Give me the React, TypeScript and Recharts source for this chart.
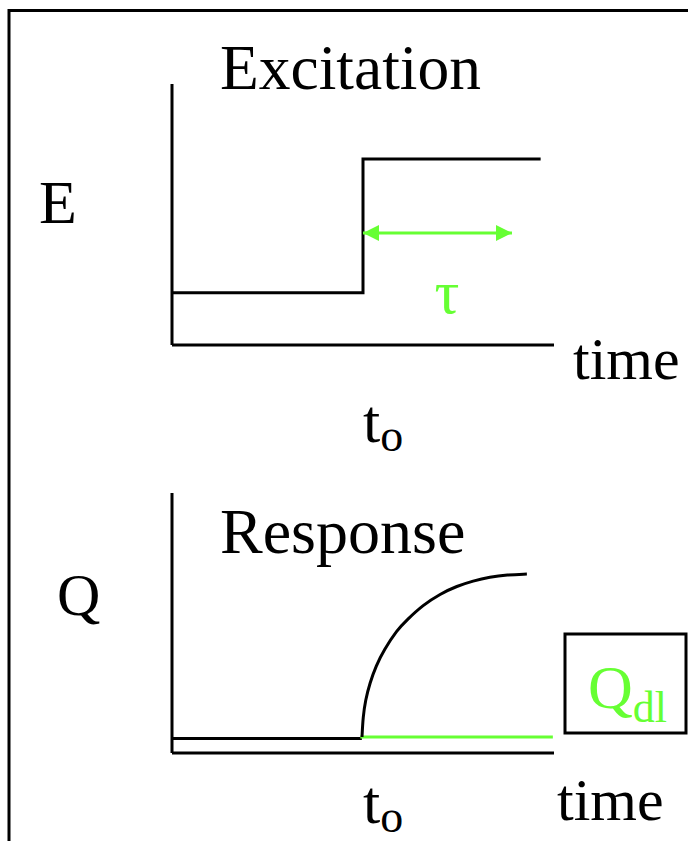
import React from "react";
import { Line, LineChart, XAxis, YAxis } from "recharts";

// time axis runs 0..100, both panels share it
const stepTimes = [0, 50, 96.5];
const stepLevels = [20, 71.3, 71.3];

const tauTimes = [50, 89];
const tauLevels = [42.9, 42.9];

const baseTimes = [0, 49.7];
const baseLevels = [5.6, 5.6];

const dlTimes = [49.3, 99.7];
const dlLevels = [6.2, 6.2];

const responseTimes = [49.74, 50.0, 50.65, 51.8, 53.4, 55.5, 58.9, 61.5, 65.7, 70.2, 74.6, 78.8, 83.2, 87.7, 92.9];
const responseLevels = [6.15, 13.8, 20.4, 26.9, 33.5, 39.6, 47.3, 51.2, 56.9, 61.2, 64.2, 66.2, 67.7, 68.5, 68.8];

const onsetTicks = [50];

const GREEN = "#66ff33";
const FONT = "'Liberation Serif', 'Times New Roman', serif";

const zip = (xs: number[], ys: number[]) => xs.map((x, i) => ({ x, y: ys[i] }));

const axisLine = { stroke: "#000", strokeWidth: 3 };

function OnsetTick({ x, y, dy }: any) {
  return (
    <text x={x} y={y + dy} fontFamily={FONT} fontSize={62} fill="#000">
      t
      <tspan fontSize={46} dy={9}>o</tspan>
    </text>
  );
}

function ArrowHead(props: any) {
  const { cx, cy, index } = props;
  const dir = index === 0 ? 1 : -1;
  const d = `M${cx},${cy} L${cx + dir * 16},${cy - 8} L${cx + dir * 16},${cy + 8} Z`;
  return <path key={`head-${index}`} d={d} fill={GREEN} stroke="none" />;
}

function Panel({
  height,
  margin,
  tickDy,
  children
}: {
  height: number;
  margin: { top: number; right: number; bottom: number; left: number };
  tickDy: number;
  children: React.ReactNode;
}) {
  return (
    <LineChart width={688} height={height} margin={margin}>
      <XAxis
        type="number"
        dataKey="x"
        domain={[0, 100]}
        allowDataOverflow
        ticks={onsetTicks}
        height={1}
        tickLine={false}
        tickSize={0}
        tickMargin={0}
        axisLine={axisLine}
        tick={<OnsetTick dy={tickDy} />}
      />
      <YAxis type="number" domain={[0, 100]} allowDataOverflow width={1} tick={false} tickLine={false} axisLine={axisLine} />
      {children}
    </LineChart>
  );
}

export default function App() {
  return (
    <div style={{ position: "absolute", left: 0, top: 0, width: 688, height: 841, background: "#fff" }}>
      <div style={{ position: "absolute", left: 0, top: 0 }}>
        <Panel height={460} margin={{ top: 84, right: 134, bottom: 114, left: 171 }} tickDy={97}>
          <Line
            data={zip(stepTimes, stepLevels)}
            dataKey="y"
            type="stepAfter"
            stroke="#000"
            strokeWidth={3}
            dot={false}
            isAnimationActive={false}
          />
          <Line
            data={zip(tauTimes, tauLevels)}
            dataKey="y"
            type="linear"
            stroke={GREEN}
            strokeWidth={3}
            dot={ArrowHead}
            isAnimationActive={false}
          />
        </Panel>
      </div>
      <div style={{ position: "absolute", left: 0, top: 460 }}>
        <Panel height={381} margin={{ top: 33, right: 134, bottom: 87, left: 171 }} tickDy={70}>
          <Line
            data={zip(baseTimes, baseLevels)}
            dataKey="y"
            type="linear"
            stroke="#000"
            strokeWidth={3}
            dot={false}
            isAnimationActive={false}
          />
          <Line
            data={zip(dlTimes, dlLevels)}
            dataKey="y"
            type="linear"
            stroke={GREEN}
            strokeWidth={3}
            dot={false}
            isAnimationActive={false}
          />
          <Line
            data={zip(responseTimes, responseLevels)}
            dataKey="y"
            type="basis"
            stroke="#000"
            strokeWidth={3}
            dot={false}
            isAnimationActive={false}
          />
        </Panel>
      </div>
      <svg
        width={688}
        height={841}
        style={{ position: "absolute", left: 0, top: 0, pointerEvents: "none" }}
        fontFamily={FONT}
      >
        <path d="M9,841 L9,10.5 L688,10.5" fill="none" stroke="#000" strokeWidth={3} />
        <text x={220} y={89} fontSize={63.5}>Excitation</text>
        <text x={39} y={223} fontSize={62}>E</text>
        <text x={573} y={379} fontSize={60}>time</text>
        <text x={447} y={313} fontSize={62} fill={GREEN} textAnchor="middle">τ</text>
        <text x={220} y={553} fontSize={64}>Response</text>
        <text x={57} y={615} fontSize={60}>Q</text>
        <text x={557} y={820} fontSize={60}>time</text>
        <rect x={565} y={634} width={121} height={99} fill="none" stroke="#000" strokeWidth={3} />
        <text x={588} y={708} fontSize={62} fill={GREEN}>
          Q<tspan fontSize={44} dy={14}>dl</tspan>
        </text>
      </svg>
    </div>
  );
}
